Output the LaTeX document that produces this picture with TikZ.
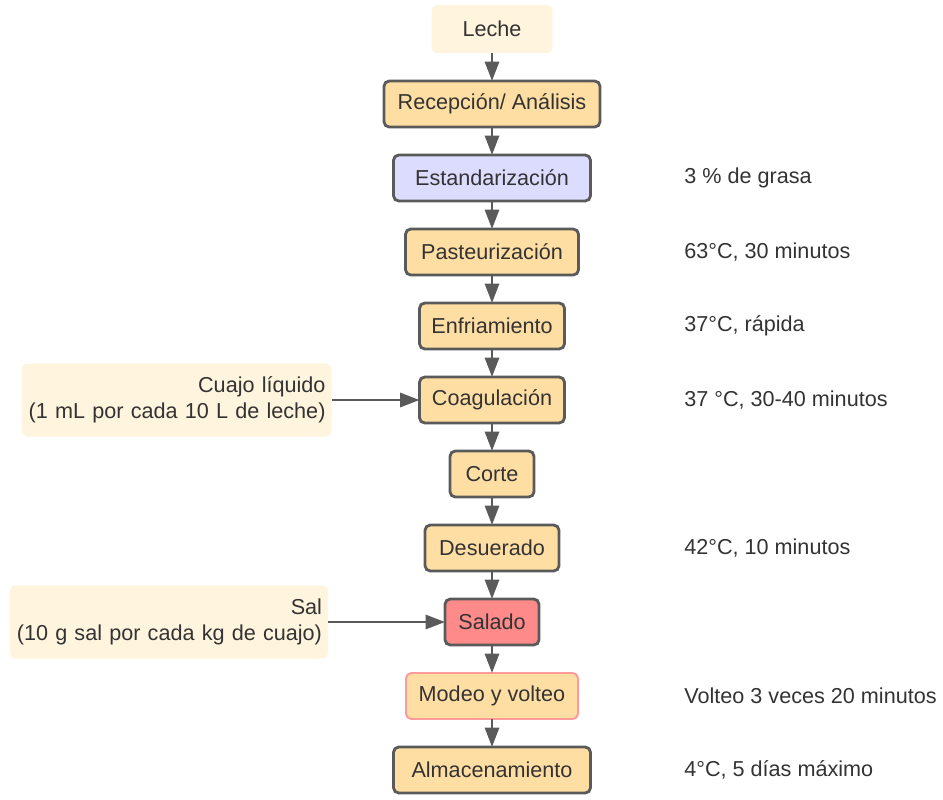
\documentclass[tikz,border=0pt]{standalone}
\usepackage{fontspec}
\setmainfont{Liberation Sans}
\usetikzlibrary{positioning,arrows.meta}

\definecolor{cream}{HTML}{FFF4DD}
\definecolor{stepfill}{HTML}{FFDEA4}
\definecolor{stepline}{HTML}{5A5A5A}
\definecolor{lavender}{HTML}{DCDCFF}
\definecolor{salmon}{HTML}{FF8A8A}
\definecolor{pinkline}{HTML}{FF9A9A}
\definecolor{inkgray}{HTML}{333333}

\begin{document}
\begin{tikzpicture}[
		font=\fontsize{12.3}{15}\selectfont,
		text=inkgray,
		node distance=0.56cm,
		stepbox/.style = {
			draw=stepline, fill=stepfill,
			line width=1.6pt, rounded corners=3pt,
			minimum height=0.92cm,
			inner sep=0pt, outer sep=0pt
			},
		inputbox/.style = {
			fill=cream, rounded corners=3pt,
			minimum height=1.46cm,
			align=right, inner sep=0.12cm, outer sep=0pt
			},
		note/.style = {anchor=west, inner sep=0pt},
		flow/.style = {
			draw=stepline, line width=1.5pt,
			-{Triangle[width=8pt,length=11pt]}
			}
		]
		\useasboundingbox (0,0) rectangle (18.86,-15.98);
		
		\node [inputbox, minimum height=0.96cm, minimum width=2.42cm, align=center] (leche) at (9.84,-0.58) {Leche};
		\node [stepbox, below=of leche, minimum width=4.32cm] (recep) {Recepción/ Análisis};
		\node [stepbox, below=of recep, minimum width=3.94cm, fill=lavender] (estand) {Estandarización};
		\node [stepbox, below=of estand, minimum width=3.46cm] (pasteur) {Pasteurización};
		\node [stepbox, below=of pasteur, minimum width=2.9cm] (enfri) {Enfriamiento};
		\node [stepbox, below=of enfri, minimum width=2.9cm] (coag) {Coagulación};
		\node [stepbox, below=of coag, minimum width=1.68cm] (corte) {Corte};
		\node [stepbox, below=of corte, minimum width=2.68cm] (desuer) {Desuerado};
		\node [stepbox, below=of desuer, minimum width=1.88cm, fill=salmon] (salado) {Salado};
		\node [stepbox, below=of salado, minimum width=3.44cm, draw=pinkline, line width=1.1pt] (modeo) {Modeo y volteo};
		\node [stepbox, below=of modeo, minimum width=3.94cm] (almac) {Almacenamiento};
		
		% side inputs
		\node [inputbox, left=1.76cm of coag, text width=5.96cm] (cuajo) {Cuajo líquido\\(1 mL por cada 10 L de leche)};
		\node [inputbox, left=2.34cm of salado, text width=6.12cm] (sal) {Sal\\(10 g sal por cada kg de cuajo)};
		
		% notes
		\coordinate (notecol) at (13.68,0);
		\node [note] (nestand) at (notecol |- estand) {3 \% de grasa};
		\node [note] (npasteur) at (notecol |- pasteur) {63°C, 30 minutos};
		\node [note] (nenfri) at (notecol |- enfri) {37°C, rápida};
		\node [note] (ncoag) at (notecol |- coag) {37 °C, 30-40 minutos};
		\node [note] (ndesuer) at (notecol |- desuer) {42°C, 10 minutos};
		\node [note] (nmodeo) at (notecol |- modeo) {Volteo 3 veces 20 minutos};
		\node [note] (nalmac) at (notecol |- almac) {4°C, 5 días máximo};
		
		\foreach \a/\b in {leche/recep, recep/estand, estand/pasteur, pasteur/enfri,
			enfri/coag, coag/corte, corte/desuer, desuer/salado, salado/modeo, modeo/almac}
			\draw [flow] (\a) -- (\b);
		
		\draw [flow] (cuajo.east) -- (coag.west);
		\draw [flow] (sal.east) -- (salado.west);
		
	\end{tikzpicture}
\end{document}
